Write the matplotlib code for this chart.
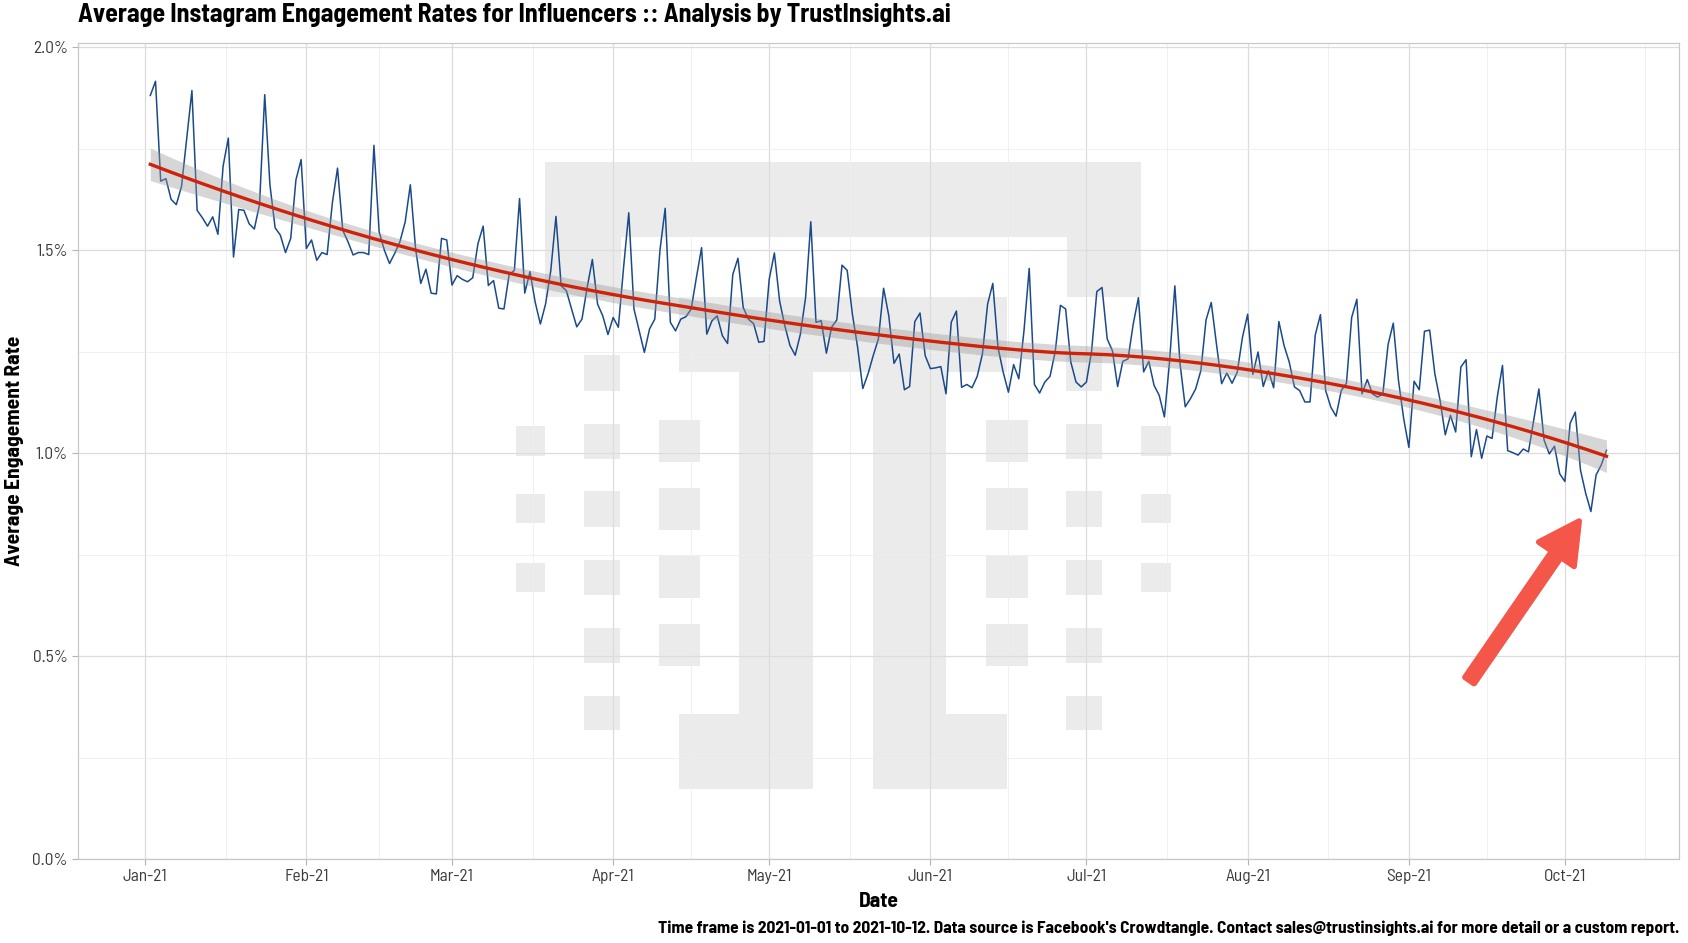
"""
Average Instagram engagement rate for influencers, daily, with a loess trend.
"""

import matplotlib
matplotlib.use("Agg")
import matplotlib.dates as mdates
import matplotlib.patheffects as pe
import matplotlib.pyplot as plt
import numpy as np
import pandas as pd
from matplotlib import font_manager
from matplotlib.patches import ArrowStyle, FancyArrowPatch, Rectangle
from matplotlib.ticker import FixedLocator, FuncFormatter, MultipleLocator

# Daily average engagement rate (%), one list per month, first day 2021-01-02.
start_date = "2021-01-02"
jan = [1.881, 1.916, 1.670, 1.676, 1.625, 1.612, 1.657, 1.776, 1.893, 1.598,
       1.580, 1.559, 1.582, 1.539, 1.707, 1.776, 1.483, 1.600, 1.598, 1.565,
       1.552, 1.612, 1.883, 1.661, 1.555, 1.537, 1.494, 1.529, 1.673, 1.723]
feb = [1.504, 1.525, 1.475, 1.494, 1.489, 1.616, 1.702, 1.549, 1.521, 1.488,
       1.494, 1.494, 1.489, 1.758, 1.545, 1.500, 1.467, 1.492, 1.521, 1.569,
       1.661, 1.504, 1.418, 1.453, 1.394, 1.392, 1.529, 1.525]
mar = [1.414, 1.437, 1.428, 1.422, 1.432, 1.516, 1.559, 1.413, 1.425, 1.357,
       1.355, 1.440, 1.450, 1.627, 1.394, 1.447, 1.372, 1.318, 1.367, 1.449,
       1.583, 1.412, 1.400, 1.355, 1.311, 1.330, 1.408, 1.477, 1.367, 1.338, 1.292]
apr = [1.334, 1.310, 1.457, 1.592, 1.355, 1.301, 1.248, 1.306, 1.330, 1.500,
       1.603, 1.322, 1.301, 1.330, 1.336, 1.355, 1.432, 1.506, 1.293, 1.326,
       1.338, 1.289, 1.270, 1.440, 1.480, 1.359, 1.330, 1.319, 1.273, 1.275]
may = [1.428, 1.493, 1.375, 1.314, 1.265, 1.241, 1.293, 1.383, 1.570, 1.322,
       1.326, 1.246, 1.310, 1.328, 1.463, 1.450, 1.342, 1.261, 1.159, 1.195,
       1.240, 1.281, 1.406, 1.338, 1.221, 1.244, 1.156, 1.164, 1.324, 1.345, 1.240]
jun = [1.208, 1.210, 1.213, 1.146, 1.322, 1.350, 1.162, 1.169, 1.161, 1.189,
       1.244, 1.367, 1.418, 1.260, 1.199, 1.150, 1.218, 1.183, 1.302, 1.455,
       1.169, 1.148, 1.175, 1.189, 1.250, 1.364, 1.355, 1.224, 1.175, 1.163]
jul = [1.175, 1.252, 1.398, 1.408, 1.281, 1.252, 1.164, 1.226, 1.232, 1.318,
       1.383, 1.200, 1.226, 1.167, 1.142, 1.089, 1.228, 1.412, 1.220, 1.114,
       1.134, 1.158, 1.203, 1.328, 1.371, 1.269, 1.171, 1.197, 1.172, 1.199, 1.285]
aug = [1.342, 1.194, 1.249, 1.164, 1.203, 1.161, 1.324, 1.265, 1.224, 1.163,
       1.154, 1.126, 1.126, 1.291, 1.341, 1.154, 1.113, 1.091, 1.154, 1.172,
       1.334, 1.379, 1.146, 1.181, 1.146, 1.138, 1.146, 1.267, 1.320, 1.179, 1.085]
sep = [1.014, 1.177, 1.156, 1.300, 1.303, 1.195, 1.130, 1.045, 1.093, 1.052,
       1.212, 1.230, 0.991, 1.058, 0.987, 1.042, 1.036, 1.138, 1.216, 1.006,
       1.001, 0.995, 1.010, 1.003, 1.081, 1.158, 1.032, 0.998, 1.017, 0.949]
oct_ = [0.930, 1.073, 1.101, 0.958, 0.901, 0.856, 0.946, 0.971, 1.007]

title = "Average Instagram Engagement Rates for Influencers :: Analysis by TrustInsights.ai"
caption = ("Time frame is 2021-01-01 to 2021-10-12. Data source is Facebook's Crowdtangle. "
           "Contact sales@trustinsights.ai for more detail or a custom report.")

# Watermark blocks ("TI" logo), in output pixels: x0, x1, y_top, y_bottom.
logo_blocks = [
  (544.6, 1140.6, 161.6, 237.1), (544.6, 620.5, 237.1, 297.2), (1067.0, 1140.6, 237.1, 297.2),
  (678.6, 1006.7, 297.2, 371.8), (738.8, 812.5, 371.8, 713.9), (678.6, 812.5, 713.9, 788.5),
  (872.8, 946.4, 297.2, 713.9), (872.8, 1006.7, 713.9, 788.5),
]
rows_a = [(425.7, 455.6), (494.0, 523.0), (562.5, 591.6)]
rows_b = [(355.0, 390.5), (423.6, 459.0), (491.0, 526.5), (559.6, 594.5), (627.6, 663.0), (695.6, 730.4)]
rows_c = [(420.0, 462.0), (488.0, 530.0), (556.0, 598.0), (624.0, 666.0)]
for (cx0, cx1), rows in [((515.6, 544.6), rows_a), ((584.0, 619.6), rows_b), ((658.5, 700.0), rows_c),
                         ((985.7, 1027.7), rows_c), ((1066.0, 1101.8), rows_b), ((1141.0, 1170.5), rows_a)]:
  logo_blocks += [(cx0, cx1, r0, r1) for r0, r1 in rows]


def loess(x, y, x_new, span=0.75):
  """Local quadratic regression (tricube weights) with pointwise 95% band."""
  n = len(x)
  q = int(np.floor(n*span))

  def row(x0):
    d = np.abs(x - x0)
    h = np.sort(d)[q - 1]
    w = np.clip(1 - (d/h)**3, 0, None)**3
    X = np.column_stack([np.ones(n), x - x0, (x - x0)**2])
    XtW = X.T*w
    return np.linalg.solve(XtW @ X, XtW)[0]

  L = np.array([row(x0) for x0 in x])
  M = np.eye(n) - L
  MtM = M.T @ M
  d1, d2 = np.trace(MtM), np.trace(MtM @ MtM)
  sigma = np.sqrt(np.sum((M @ y)**2)/d1)
  df = d1**2/d2
  z = 1.959964
  t = z + (z**3 + z)/(4*df)
  Ln = np.array([row(x0) for x0 in x_new])
  fit = Ln @ y
  se = sigma*np.sqrt(np.sum(Ln**2, axis=1))
  return fit, fit - t*se, fit + t*se


# Fonts: prefer a condensed face like the original.
available = {f.name for f in font_manager.fontManager.ttflist}
base_font = next((f for f in ["Barlow Semi Condensed", "Roboto Condensed", "Liberation Sans Narrow",
                              "Open Sans Condensed"] if f in available), "Roboto")
plt.rcParams["font.family"] = [base_font, "DejaVu Sans"]

values = np.array(jan + feb + mar + apr + may + jun + jul + aug + sep + oct_)
dates = pd.date_range(start_date, periods=len(values), freq="D")
xnum = mdates.date2num(dates.to_pydatetime())

x_smooth = np.linspace(xnum.min(), xnum.max(), 80)
y_fit, y_lo, y_hi = loess(xnum, values, x_smooth)

W, H = 1688, 943
AX_L, AX_R, AX_T, AX_B = 77.5, 1679.3, 43.1, 859.0
fig = plt.figure(figsize=(W/100, H/100), dpi=100)
ax = fig.add_axes([AX_L/W, 1 - AX_B/H, (AX_R - AX_L)/W, (AX_B - AX_T)/H])

for x0, x1, y0, y1 in logo_blocks:
  ax.add_patch(Rectangle(((x0 - AX_L)/(AX_R - AX_L), (AX_B - y1)/(AX_B - AX_T)),
                         (x1 - x0)/(AX_R - AX_L), (y1 - y0)/(AX_B - AX_T),
                         transform=ax.transAxes, facecolor="#EBEBEB", edgecolor="none", zorder=0))

ax.plot(xnum, values, color="#1B4A8A", lw=1.1, zorder=3)
ax.fill_between(x_smooth, y_lo, y_hi, color="#999999", alpha=0.4, lw=0, zorder=4)
ax.plot(x_smooth, y_fit, color="#CF2208", lw=2.4, zorder=5)

# Scales.
span = xnum.max() - xnum.min()
ax.set_xlim(xnum.min() - 0.05*span, xnum.max() + 0.05*span)
ax.set_ylim(0, 2.01)
month_starts = pd.date_range("2020-12-01", "2021-11-01", freq="MS")
ms = mdates.date2num(month_starts.to_pydatetime())
ax.xaxis.set_major_locator(mdates.MonthLocator())
ax.xaxis.set_major_formatter(mdates.DateFormatter("%b-%y"))
ax.xaxis.set_minor_locator(FixedLocator((ms[:-1] + ms[1:])/2))
ax.yaxis.set_major_locator(MultipleLocator(0.5))
ax.yaxis.set_minor_locator(MultipleLocator(0.25))
ax.yaxis.set_major_formatter(FuncFormatter(lambda v, _: f"{v:.1f}%"))

ax.set_axisbelow(True)
ax.grid(which="major", color="#DCDCDC", lw=0.9)
ax.grid(which="minor", color="#EEEEEE", lw=0.6)
for s in ax.spines.values():
  s.set_color("#C8C8C8")
  s.set_linewidth(0.9)
ax.tick_params(which="major", length=4, color="#B3B3B3", labelsize=12.5, labelcolor="#3A3A3A", pad=3)
ax.tick_params(which="minor", length=0)

ax.set_xlabel("Date", fontsize=15.5, fontweight="bold", labelpad=6)
ax.set_ylabel("Average Engagement Rate", fontsize=15.5, fontweight="bold", labelpad=6)

fig.text(AX_L/W, 1 - 15/H, title, fontsize=18.6, fontweight="bold", ha="left", va="center")
fig.text(AX_R/W, 1 - 928/H, caption, fontsize=12.5, fontweight="bold", ha="right", va="center")

# Call-out arrow pointing at the latest dip (thick round-joined outline rounds the tail).
arrow = FancyArrowPatch((0.868, 0.216), (0.9385, 0.417), transform=ax.transAxes,
                        arrowstyle=ArrowStyle.Simple(head_length=29, head_width=31, tail_width=8),
                        mutation_scale=1, facecolor="#F4574A", edgecolor="#F4574A", lw=4,
                        joinstyle="round", capstyle="round", zorder=6,
                        path_effects=[pe.SimplePatchShadow(offset=(1.5, -1.5), alpha=0.35), pe.Normal()])
ax.add_patch(arrow)

fig.savefig("out.png", dpi=100)
